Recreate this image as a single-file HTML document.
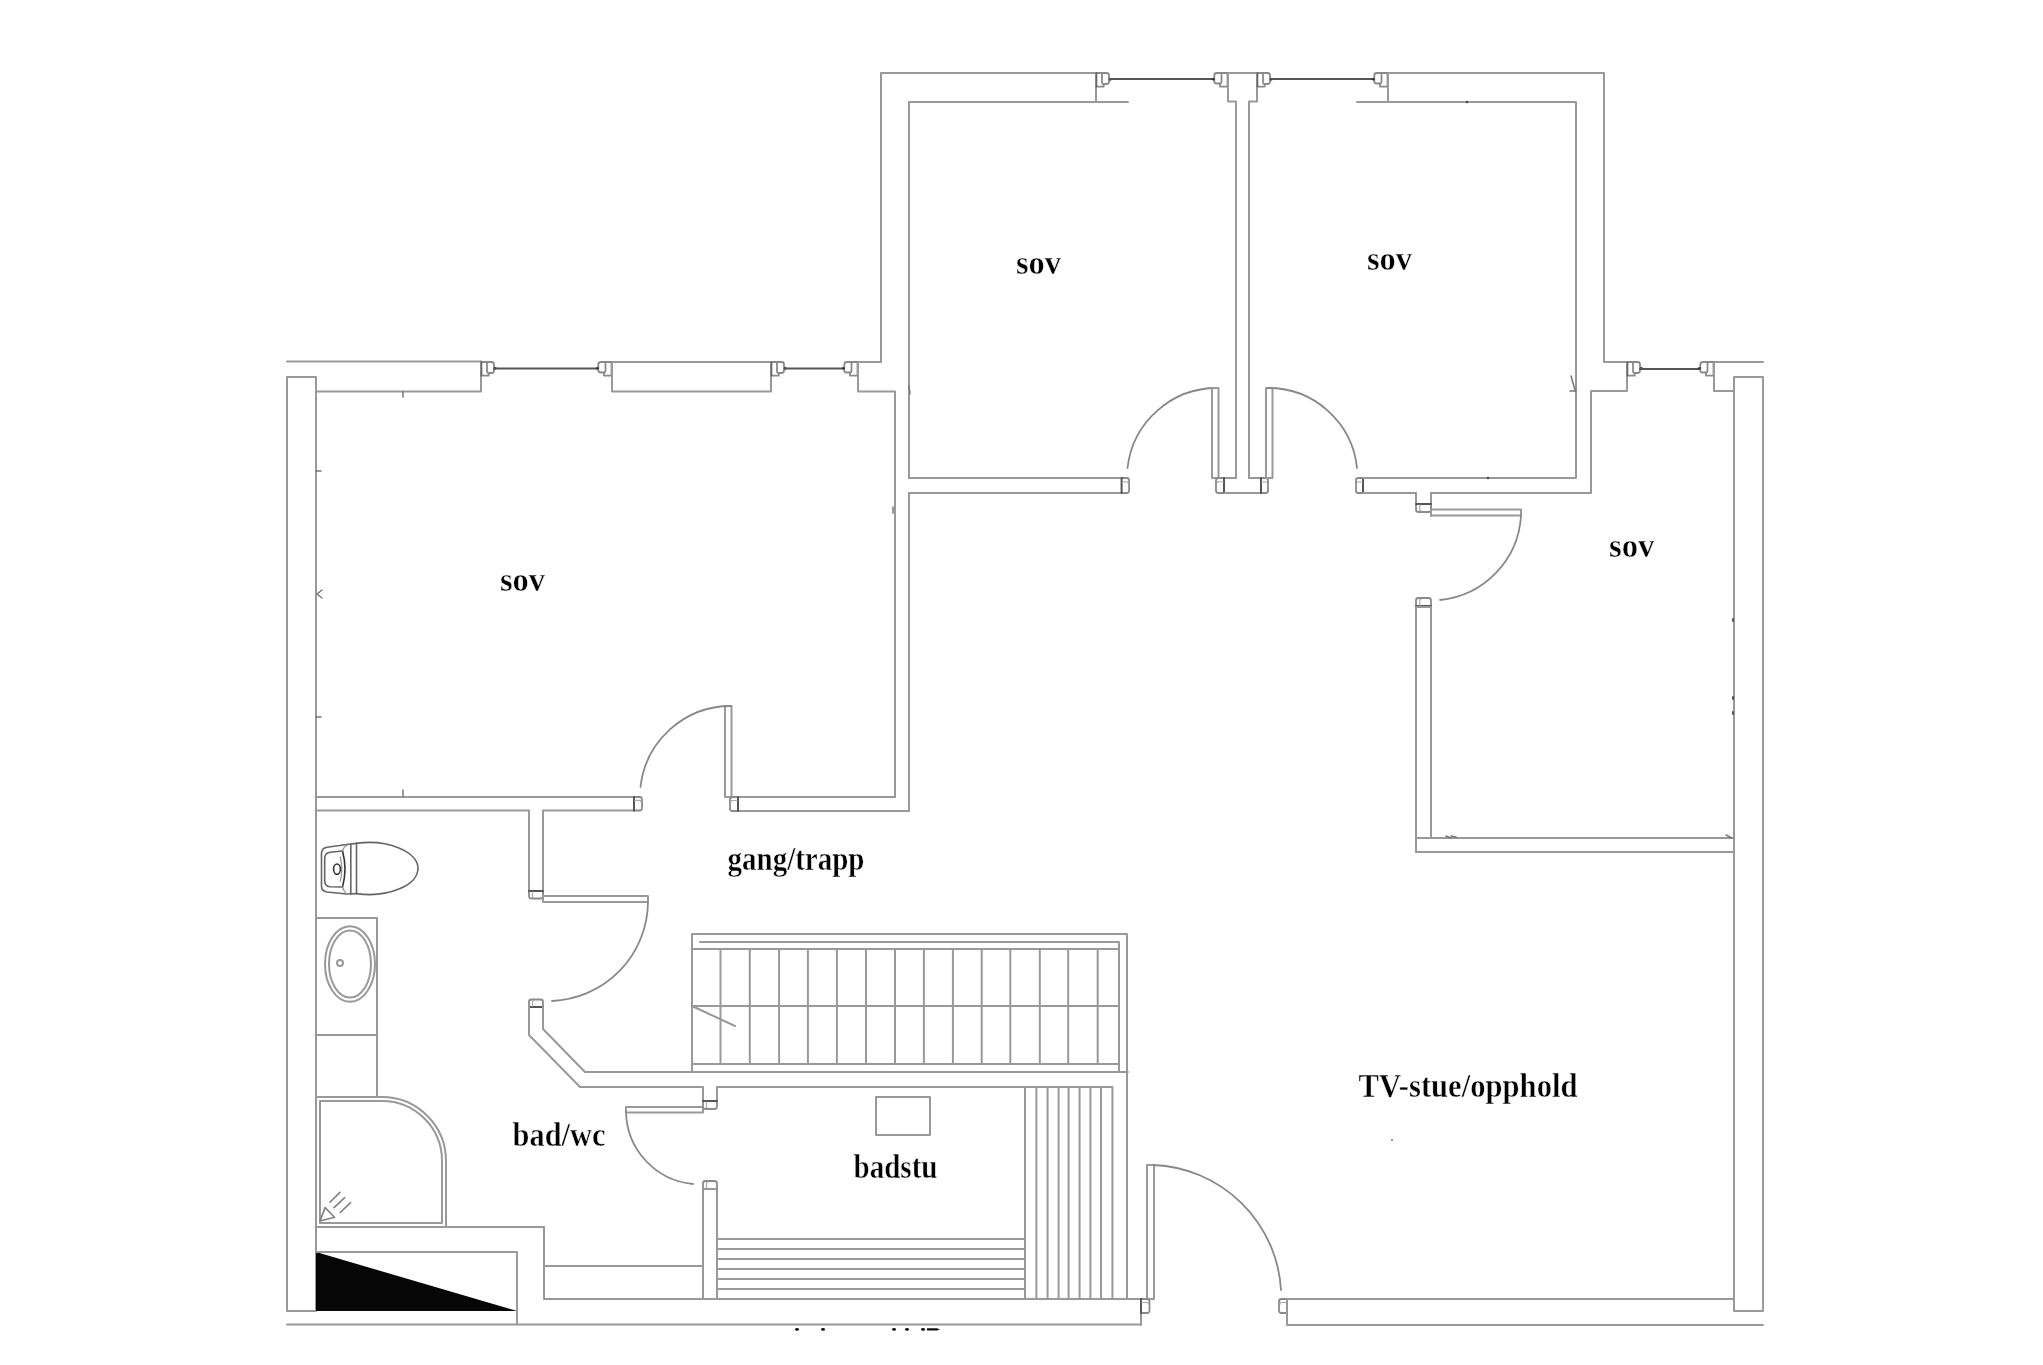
<!DOCTYPE html>
<html><head><meta charset="utf-8"><style>
html,body{margin:0;padding:0;background:#fff;width:2043px;height:1365px;overflow:hidden}
svg{display:block;filter:blur(0.4px)}
line,polyline,path,rect,ellipse,circle{stroke-linejoin:round;stroke-linecap:round}
.w{fill:none;stroke:#999;stroke-width:2}
.d{fill:none;stroke:#666;stroke-width:1.6}
.dk{fill:none;stroke:#333;stroke-width:1.6}
.lt{fill:none;stroke:#999;stroke-width:1.3}
.win{fill:none;stroke:#555;stroke-width:2}
.br{fill:none;stroke:#8a8a8a;stroke-width:1.8}
.arc{fill:none;stroke:#888;stroke-width:1.8}
.t{fill:none;stroke:#aaa;stroke-width:1.5}
.sh{fill:none;stroke:#808080;stroke-width:1.6}
.jd{fill:none;stroke:#555;stroke-width:2}
.ji{fill:none;stroke:#aaa;stroke-width:1.2}
.tk{fill:none;stroke:#777;stroke-width:1.5}
text{font-family:"Liberation Serif",serif;font-weight:bold;font-size:34px;fill:#000;stroke:#fff;stroke-width:0.45px}
</style></head><body>
<svg width="2043" height="1365" viewBox="0 0 2043 1365">
<line x1="287" y1="361.5" x2="481" y2="361.5" class="w"/>
<polyline points="287,1311 287,377 316,377 316,1311 287,1311" class="w"/>
<polyline points="316,391.5 481,391.5 481,361.5" class="w"/>
<path d="M481,362 H491.5 Q494,362 494,364.5 V370.5 Q494,373 491.5,373 H488.5 Q487,373 487,371.5 V362" class="br"/>
<path d="M481,375.6 H488.7 V373" class="br"/>
<line x1="481.5" y1="362" x2="481.5" y2="375.6" class="d"/>
<circle cx="495.3" cy="368.3" r="1.4" fill="#333"/>
<line x1="494" y1="368.5" x2="598" y2="368.5" class="win"/>
<path d="M612,362 H601 Q598.3,362 598.3,364.5 V370.5 Q598.3,372.5 601,372.5 H604 Q605.5,372.5 605.5,371 V362" class="br"/>
<path d="M612,375.6 H604 V372.5" class="br"/>
<line x1="611.5" y1="362" x2="611.5" y2="375.6" class="d"/>
<circle cx="597.4" cy="368.3" r="1.4" fill="#333"/>
<rect x="612" y="362" width="159" height="29.5" class="w"/>
<path d="M771,362 H781.5 Q784,362 784,364.5 V370.5 Q784,373 781.5,373 H778.5 Q777,373 777,371.5 V362" class="br"/>
<path d="M771,375.6 H778.7 V373" class="br"/>
<line x1="771.5" y1="362" x2="771.5" y2="375.6" class="d"/>
<circle cx="785.3" cy="368.3" r="1.4" fill="#333"/>
<line x1="785" y1="368.5" x2="844" y2="368.5" class="win"/>
<path d="M858,362 H847 Q844.3,362 844.3,364.5 V370.5 Q844.3,372.5 847,372.5 H850 Q851.5,372.5 851.5,371 V362" class="br"/>
<path d="M858,375.6 H850 V372.5" class="br"/>
<line x1="857.5" y1="362" x2="857.5" y2="375.6" class="d"/>
<circle cx="843.4" cy="368.3" r="1.4" fill="#333"/>
<polyline points="895,797 895,391.5 858,391.5 858,362 881,362 881,73 1096,73 1096,102" class="w"/>
<line x1="316" y1="797" x2="634" y2="797" class="w"/>
<polyline points="529,891 529,810.5 316,810.5" class="w"/>
<polyline points="543,896 543,810.5 634,810.5" class="w"/>
<g transform="matrix(0,1,1,0,634,797)"><path d="M0,0 V5.5 Q0,8 2.5,8 H11.0 Q13.5,8 13.5,5.5 V0" class="br"/><path d="M0,0 H13.5" class="jd"/><path d="M3.375,0.8 V6 Q3.375,7 4.725,7" class="ji"/></g>
<rect x="725" y="706" width="6.5" height="91" class="w"/>
<path d="M731,706 A91,91 0 0 0 640.5,787" class="arc"/>
<line x1="731" y1="797" x2="895" y2="797" class="w"/>
<polyline points="738,811 909,811 909,493" class="w"/>
<g transform="matrix(0,1,-1,0,738,797)"><path d="M0,0 V5.5 Q0,8 2.5,8 H11.5 Q14,8 14,5.5 V0" class="br"/><path d="M0,0 H14" class="jd"/><path d="M3.5,0.8 V6 Q3.5,7 4.8999999999999995,7" class="ji"/></g>
<line x1="909" y1="102" x2="1128" y2="102" class="w"/>
<line x1="909" y1="102" x2="909" y2="478" class="w"/>
<path d="M1096,73 H1106.5 Q1109,73 1109,75.5 V81.5 Q1109,84 1106.5,84 H1103.5 Q1102,84 1102,82.5 V73" class="br"/>
<path d="M1096,86.6 H1103.7 V84" class="br"/>
<line x1="1096.5" y1="73" x2="1096.5" y2="86.6" class="d"/>
<circle cx="1110.3" cy="79.3" r="1.4" fill="#333"/>
<line x1="1110" y1="79" x2="1214" y2="79" class="win"/>
<path d="M1228,73 H1217 Q1214.3,73 1214.3,75.5 V81.5 Q1214.3,83.5 1217,83.5 H1220 Q1221.5,83.5 1221.5,82 V73" class="br"/>
<path d="M1228,86.6 H1220 V83.5" class="br"/>
<line x1="1227.5" y1="73" x2="1227.5" y2="86.6" class="d"/>
<circle cx="1213.4" cy="79.3" r="1.4" fill="#333"/>
<polyline points="1236,478 1236,101.5 1228,101.5 1228,73 1257,73 1257,101.5 1249,101.5 1249,478" class="w"/>
<line x1="909" y1="478" x2="1121.6" y2="478" class="w"/>
<line x1="909" y1="493" x2="1121.6" y2="493" class="w"/>
<g transform="matrix(0,1,1,0,1121.6,478)"><path d="M0,0 V5.0 Q0,7.5 2.5,7.5 H12.5 Q15,7.5 15,5.0 V0" class="br"/><path d="M0,0 H15" class="jd"/><path d="M3.75,0.8 V5.5 Q3.75,6.5 5.25,6.5" class="ji"/></g>
<path d="M1218,388 A90,90 0 0 0 1127.5,468" class="arc"/>
<rect x="1212" y="388" width="6.5" height="90" class="w"/>
<line x1="1218" y1="478" x2="1236" y2="478" class="w"/>
<line x1="1249" y1="478" x2="1266" y2="478" class="w"/>
<g transform="matrix(0,1,-1,0,1224,478)"><path d="M0,0 V5.5 Q0,8 2.5,8 H12.5 Q15,8 15,5.5 V0" class="br"/><path d="M0,0 H15" class="jd"/><path d="M3.75,0.8 V6 Q3.75,7 5.25,7" class="ji"/></g>
<line x1="1224" y1="493" x2="1261" y2="493" class="w"/>
<g transform="matrix(0,1,1,0,1261,478)"><path d="M0,0 V4.666666666666666 Q0,7 2.3333333333333335,7 H12.666666666666666 Q15,7 15,4.666666666666666 V0" class="br"/><path d="M0,0 H15" class="jd"/><path d="M3.75,0.8 V5 Q3.75,6 5.25,6" class="ji"/></g>
<rect x="1266" y="388" width="6.5" height="90" class="w"/>
<path d="M1268,388 A89,89 0 0 1 1357,468" class="arc"/>
<g transform="matrix(0,1,-1,0,1363,478)"><path d="M0,0 V4.666666666666666 Q0,7 2.3333333333333335,7 H12.666666666666666 Q15,7 15,4.666666666666666 V0" class="br"/><path d="M0,0 H15" class="jd"/><path d="M3.75,0.8 V5 Q3.75,6 5.25,6" class="ji"/></g>
<line x1="1257" y1="73" x2="1257" y2="73" class="w"/>
<path d="M1257,73 H1267.5 Q1270,73 1270,75.5 V81.5 Q1270,84 1267.5,84 H1264.5 Q1263,84 1263,82.5 V73" class="br"/>
<path d="M1257,86.6 H1264.7 V84" class="br"/>
<line x1="1257.5" y1="73" x2="1257.5" y2="86.6" class="d"/>
<circle cx="1271.3" cy="79.3" r="1.4" fill="#333"/>
<line x1="1272" y1="79" x2="1374" y2="79" class="win"/>
<path d="M1388,73 H1377 Q1374.3,73 1374.3,75.5 V81.5 Q1374.3,83.5 1377,83.5 H1380 Q1381.5,83.5 1381.5,82 V73" class="br"/>
<path d="M1388,86.6 H1380 V83.5" class="br"/>
<line x1="1387.5" y1="73" x2="1387.5" y2="86.6" class="d"/>
<circle cx="1373.4" cy="79.3" r="1.4" fill="#333"/>
<polyline points="1388,102 1388,73 1604,73 1604,362 1627,362 1627,391 1591,391 1591,493 1431,493" class="w"/>
<polyline points="1357,102 1576,102 1576,478 1363,478" class="w"/>
<line x1="1363" y1="493" x2="1416" y2="493" class="w"/>
<line x1="1416" y1="493" x2="1416" y2="504" class="w"/>
<line x1="1431" y1="493" x2="1431" y2="516" class="w"/>
<g transform="translate(1416,504)"><path d="M0,0 V5.5 Q0,8 2.5,8 H12.5 Q15,8 15,5.5 V0" class="br"/><path d="M0,0 H15" class="jd"/><path d="M3.75,0.8 V6 Q3.75,7 5.25,7" class="ji"/></g>
<rect x="1431" y="509.5" width="90" height="6" class="w"/>
<path d="M1521,516 A90,90 0 0 1 1440,600" class="arc"/>
<path d="M1627,362 H1637.5 Q1640,362 1640,364.5 V370.5 Q1640,373 1637.5,373 H1634.5 Q1633,373 1633,371.5 V362" class="br"/>
<path d="M1627,375.6 H1634.7 V373" class="br"/>
<line x1="1627.5" y1="362" x2="1627.5" y2="375.6" class="d"/>
<circle cx="1641.3" cy="368.3" r="1.4" fill="#333"/>
<line x1="1640" y1="369" x2="1700" y2="369" class="win"/>
<path d="M1714,362 H1703 Q1700.3,362 1700.3,364.5 V370.5 Q1700.3,372.5 1703,372.5 H1706 Q1707.5,372.5 1707.5,371 V362" class="br"/>
<path d="M1714,375.6 H1706 V372.5" class="br"/>
<line x1="1713.5" y1="362" x2="1713.5" y2="375.6" class="d"/>
<circle cx="1699.4" cy="368.3" r="1.4" fill="#333"/>
<polyline points="1714,362 1763,362" class="w"/>
<polyline points="1714,362 1714,391 1734,391" class="w"/>
<polyline points="1734,377 1763,377 1763,1311 1734,1311 1734,377" class="w"/>
<g transform="matrix(1,0,0,-1,1416,606)"><path d="M0,0 V5.5 Q0,8 2.5,8 H12.5 Q15,8 15,5.5 V0" class="br"/><path d="M0,0 H15" class="jd"/><path d="M3.75,0.8 V6 Q3.75,7 5.25,7" class="ji"/></g>
<polyline points="1416,607 1431,607 1431,838" class="w"/>
<line x1="1416" y1="607" x2="1416" y2="852" class="w"/>
<line x1="1416" y1="838" x2="1734" y2="838" class="w"/>
<line x1="1416" y1="852" x2="1734" y2="852" class="w"/>
<g transform="translate(529,891)"><path d="M0,0 V5.0 Q0,7.5 2.5,7.5 H11.5 Q14,7.5 14,5.0 V0" class="br"/><path d="M0,0 H14" class="jd"/><path d="M3.5,0.8 V5.5 Q3.5,6.5 4.8999999999999995,6.5" class="ji"/></g>
<rect x="543" y="896" width="105" height="6" class="w"/>
<path d="M648,902 A100,100 0 0 1 552,1001" class="arc"/>
<g transform="matrix(1,0,0,-1,529,1007)"><path d="M0,0 V5.0 Q0,7.5 2.5,7.5 H11.5 Q14,7.5 14,5.0 V0" class="br"/><path d="M0,0 H14" class="jd"/><path d="M3.5,0.8 V5.5 Q3.5,6.5 4.8999999999999995,6.5" class="ji"/></g>
<polyline points="529,1007 529,1035 580,1087 703,1087 703,1102" class="w"/>
<polyline points="543,1007 543,1029 585,1072 1128,1072" class="w"/>
<polyline points="717,1102 717,1087 1112,1087" class="w"/>
<polyline points="692,1072 692,934 1127,934 1127,1299" class="w"/>
<polyline points="700,942 1119,942 1119,1072" class="w"/>
<line x1="692" y1="949" x2="1119" y2="949" class="w"/>
<line x1="692" y1="1006" x2="1119" y2="1006" class="w"/>
<line x1="692" y1="1064" x2="1119" y2="1064" class="w"/>
<line x1="720.5" y1="949" x2="720.5" y2="1064" class="w"/>
<line x1="749.8" y1="949" x2="749.8" y2="1064" class="w"/>
<line x1="779.1" y1="949" x2="779.1" y2="1064" class="w"/>
<line x1="807.9" y1="949" x2="807.9" y2="1064" class="w"/>
<line x1="836.9" y1="949" x2="836.9" y2="1064" class="w"/>
<line x1="866" y1="949" x2="866" y2="1064" class="w"/>
<line x1="895" y1="949" x2="895" y2="1064" class="w"/>
<line x1="923.9" y1="949" x2="923.9" y2="1064" class="w"/>
<line x1="952.9" y1="949" x2="952.9" y2="1064" class="w"/>
<line x1="981.7" y1="949" x2="981.7" y2="1064" class="w"/>
<line x1="1010.3" y1="949" x2="1010.3" y2="1064" class="w"/>
<line x1="1039.8" y1="949" x2="1039.8" y2="1064" class="w"/>
<line x1="1068.2" y1="949" x2="1068.2" y2="1064" class="w"/>
<line x1="1097.7" y1="949" x2="1097.7" y2="1064" class="w"/>
<line x1="692" y1="1006" x2="735" y2="1026" class="w"/>
<rect x="316" y="918" width="61" height="117" class="w"/>
<rect x="316" y="1035" width="61" height="62" class="w"/>
<ellipse cx="350" cy="964" rx="25" ry="37.8" class="w"/>
<ellipse cx="350" cy="964" rx="21" ry="33.5" class="w"/>
<circle cx="340" cy="963" r="3" class="w"/>
<path d="M347,844.5 L327,847.2 Q321.5,848.2 321.5,853.5 L321.5,886 Q321.5,891.2 327,892 L347,894 L356.5,893.6" class="d"/>
<path d="M347,844.5 L356.5,843.4" class="d"/>
<path d="M342.5,851 L330,852.3 Q324.7,853.2 324.7,858.5 L324.7,881 Q324.7,886.2 330,886.8 L342.5,887" class="d"/>
<path d="M342.5,851 Q347.5,869 342.5,887" class="dk"/>
<path d="M340.3,857 Q343.3,869 340.3,881" class="lt"/>
<path d="M347,845 Q343.5,847 342.5,851 M342.5,887 Q343.5,891.5 347,894" class="lt"/>
<ellipse cx="337" cy="869.2" rx="3.4" ry="5.2" class="dk"/>
<line x1="350.8" y1="844.2" x2="350.8" y2="894" class="d"/>
<line x1="356.5" y1="843.4" x2="356.5" y2="893.6" class="d"/>
<path d="M356.5,843.36 A49,26 0 1 1 356.5,893.64" class="d"/>
<path d="M316,1097 L382,1097 A64,64 0 0 1 446,1161 L446,1227" class="w"/>
<path d="M320,1101 L382,1101 A60,60 0 0 1 442,1161 L442,1223 L320,1223 Z" class="w"/>
<path d="M320,1221 L325.1,1207.6 L334.5,1217.2 Z" class="sh"/>
<line x1="330" y1="1202.2" x2="339.9" y2="1192.4" class="sh"/>
<line x1="334" y1="1207.7" x2="344.7" y2="1197.7" class="sh"/>
<line x1="340.2" y1="1212.5" x2="350.6" y2="1202.6" class="sh"/>
<line x1="316" y1="1227" x2="544" y2="1227" class="w"/>
<polyline points="544,1227 544,1299 1141,1299 1141,1325" class="w"/>
<line x1="544" y1="1266" x2="703" y2="1266" class="w"/>
<polygon points="316,1252 316,1311 517,1311" fill="#060606"/>
<polyline points="316,1252 517,1252 517,1324.5" class="w"/>
<line x1="287" y1="1324.5" x2="1141" y2="1324.5" class="w"/>
<rect x="626" y="1107" width="77" height="5.5" class="w"/>
<path d="M626,1112 A74,74 0 0 0 693,1184" class="arc"/>
<g transform="translate(703,1101)"><path d="M0,0 V5.5 Q0,8 2.5,8 H11.5 Q14,8 14,5.5 V0" class="br"/><path d="M0,0 H14" class="jd"/><path d="M3.5,0.8 V6 Q3.5,7 4.8999999999999995,7" class="ji"/></g>
<g transform="matrix(1,0,0,-1,703,1189)"><path d="M0,0 V5.5 Q0,8 2.5,8 H11.5 Q14,8 14,5.5 V0" class="br"/><path d="M0,0 H14" class="jd"/><path d="M3.5,0.8 V6 Q3.5,7 4.8999999999999995,7" class="ji"/></g>
<rect x="703" y="1189" width="14" height="110" class="w"/>
<rect x="876" y="1097" width="54" height="38" class="w"/>
<line x1="717" y1="1239" x2="1025" y2="1239" class="w"/>
<line x1="717" y1="1249" x2="1025" y2="1249" class="w"/>
<line x1="717" y1="1259" x2="1025" y2="1259" class="w"/>
<line x1="717" y1="1269" x2="1025" y2="1269" class="w"/>
<line x1="717" y1="1279" x2="1025" y2="1279" class="w"/>
<line x1="717" y1="1289" x2="1025" y2="1289" class="w"/>
<line x1="1025" y1="1087" x2="1025" y2="1299" class="w"/>
<line x1="1036.4" y1="1087" x2="1036.4" y2="1299" class="w"/>
<line x1="1047.6" y1="1087" x2="1047.6" y2="1299" class="w"/>
<line x1="1058.6" y1="1087" x2="1058.6" y2="1299" class="w"/>
<line x1="1068.6" y1="1087" x2="1068.6" y2="1299" class="w"/>
<line x1="1079.6" y1="1087" x2="1079.6" y2="1299" class="w"/>
<line x1="1090.4" y1="1087" x2="1090.4" y2="1299" class="w"/>
<line x1="1101" y1="1087" x2="1101" y2="1299" class="w"/>
<line x1="1112.4" y1="1087" x2="1112.4" y2="1299" class="w"/>
<rect x="1147" y="1165" width="7" height="134" class="w"/>
<path d="M1154,1165 A133,133 0 0 1 1281,1290" class="arc"/>
<g transform="matrix(0,1,1,0,1141,1299)"><path d="M0,0 V6.0 Q0,8.5 2.5,8.5 H11.5 Q14,8.5 14,6.0 V0" class="br"/><path d="M0,0 H14" class="jd"/><path d="M3.5,0.8 V6.5 Q3.5,7.5 4.8999999999999995,7.5" class="ji"/></g>
<g transform="matrix(0,1,-1,0,1287,1299)"><path d="M0,0 V5.5 Q0,8 2.5,8 H11.5 Q14,8 14,5.5 V0" class="br"/><path d="M0,0 H14" class="jd"/><path d="M3.5,0.8 V6 Q3.5,7 4.8999999999999995,7" class="ji"/></g>
<polyline points="1734,1299 1287,1299 1287,1325 1763,1325" class="w"/>
<line x1="403" y1="391.5" x2="403" y2="397" class="tk"/>
<line x1="316" y1="471" x2="321" y2="471" class="tk"/>
<polyline points="322,590 317,594 322,598" class="tk"/>
<line x1="316" y1="717" x2="321" y2="717" class="tk"/>
<line x1="403" y1="797" x2="403" y2="790" class="tk"/>
<line x1="893" y1="507" x2="893" y2="513" class="tk"/>
<line x1="909" y1="386" x2="910" y2="394" class="tk"/>
<polyline points="1571,376 1575,390" class="tk"/>
<line x1="1570" y1="391" x2="1576" y2="391" class="tk"/>
<line x1="1446" y1="836" x2="1451" y2="838" class="tk"/>
<line x1="1451" y1="836" x2="1456" y2="837" class="tk"/>
<line x1="1726" y1="835" x2="1732" y2="838" class="tk"/>
<line x1="1733" y1="619" x2="1733" y2="621" class="jd"/>
<line x1="1733" y1="697" x2="1733" y2="699" class="jd"/>
<line x1="1733" y1="712" x2="1733" y2="714" class="jd"/>
<circle cx="1467" cy="102" r="1.2" fill="#444"/>
<circle cx="1488" cy="478" r="1.2" fill="#444"/>
<circle cx="1392" cy="1140" r="1" fill="#777"/>
<ellipse cx="797" cy="1329.4" rx="2" ry="1.3" fill="#111"/>
<ellipse cx="823" cy="1329.4" rx="2" ry="1.3" fill="#111"/>
<ellipse cx="894" cy="1329.4" rx="2" ry="1.3" fill="#111"/>
<ellipse cx="907" cy="1329.4" rx="2" ry="1.3" fill="#111"/>
<ellipse cx="923" cy="1329.4" rx="2" ry="1.3" fill="#111"/>
<path d="M927,1328.3 H937 L940,1329.4 L937,1330.5 H927 Z" fill="#111"/>
<text x="500" y="590.5" textLength="45" lengthAdjust="spacingAndGlyphs">sov</text>
<text x="1016" y="273.5" textLength="45" lengthAdjust="spacingAndGlyphs">sov</text>
<text x="1367" y="269.5" textLength="45" lengthAdjust="spacingAndGlyphs">sov</text>
<text x="1609" y="556.5" textLength="45.5" lengthAdjust="spacingAndGlyphs">sov</text>
<text x="727.5" y="869.5" textLength="137" lengthAdjust="spacingAndGlyphs">gang/trapp</text>
<text x="512.5" y="1145.5" textLength="93" lengthAdjust="spacingAndGlyphs">bad/wc</text>
<text x="853.5" y="1177.5" textLength="84" lengthAdjust="spacingAndGlyphs">badstu</text>
<text x="1358.5" y="1096.5" textLength="219" lengthAdjust="spacingAndGlyphs">TV-stue/opphold</text>
</svg>
</body></html>
